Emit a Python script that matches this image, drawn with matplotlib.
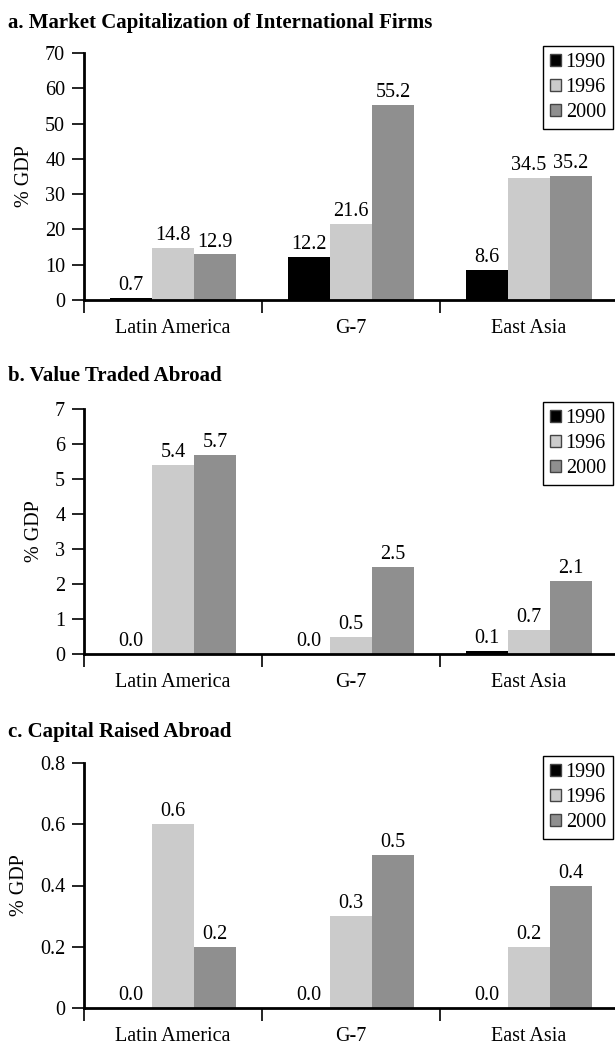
import matplotlib
matplotlib.use('Agg')
import matplotlib.pyplot as plt
from matplotlib.patches import Patch

plt.rcParams['font.family'] = ['Liberation Serif', 'DejaVu Serif']

# data
regions = ['Latin America', 'G-7', 'East Asia']
years = ['1990', '1996', '2000']
colors = ['#000000', '#cbcbcb', '#8f8f8f']

titles = ['a. Market Capitalization of International Firms',
          'b. Value Traded Abroad',
          'c. Capital Raised Abroad']

mcap_1990 = [0.7, 12.2, 8.6]
mcap_1996 = [14.8, 21.6, 34.5]
mcap_2000 = [12.9, 55.2, 35.2]

traded_1990 = [0.0, 0.0, 0.1]
traded_1996 = [5.4, 0.5, 0.7]
traded_2000 = [5.7, 2.5, 2.1]

raised_1990 = [0.0, 0.0, 0.0]
raised_1996 = [0.6, 0.3, 0.2]
raised_2000 = [0.2, 0.5, 0.4]

yticks_a = [0, 10, 20, 30, 40, 50, 60, 70]
yticks_b = [0, 1, 2, 3, 4, 5, 6, 7]
yticks_c = [0, 0.2, 0.4, 0.6, 0.8]
ytick_labels_c = ['0', '0.2', '0.4', '0.6', '0.8']

panels = [
    (titles[0], [mcap_1990, mcap_1996, mcap_2000], yticks_a, [str(t) for t in yticks_a]),
    (titles[1], [traded_1990, traded_1996, traded_2000], yticks_b, [str(t) for t in yticks_b]),
    (titles[2], [raised_1990, raised_1996, raised_2000], yticks_c, ytick_labels_c),
]

W, H = 615, 1049
fig = plt.figure(figsize=(W / 100, H / 100), dpi=100)

# pixel layout: (axis top y, axis bottom y, title y, legend top y)
layout = [(53, 300, 23, 46), (409, 654, 376, 402), (763, 1008, 732, 756)]
left_px, right_px = 84, 618

fs = 14.5
bw = 0.236
for (title, series, yt, ytl), (top, bot, ty, ly) in zip(panels, layout):
    ax = fig.add_axes([left_px / W, 1 - bot / H, (right_px - left_px) / W, (bot - top) / H])
    x = range(len(regions))
    for i, (vals, c, yr) in enumerate(zip(series, colors, years)):
        pos = [xi + (i - 1) * bw for xi in x]
        bars = ax.bar(pos, vals, width=bw, color=c, label=yr, linewidth=0)
        ax.bar_label(bars, labels=[f'{v:.1f}' for v in vals], padding=2, fontsize=fs)
    ax.set_xlim(-0.5, 2.5)
    ax.set_ylim(0, yt[-1])
    ax.set_yticks(yt)
    ax.set_yticklabels(ytl, fontsize=fs)
    ax.set_xticks(list(x))
    ax.set_xticklabels(regions, fontsize=fs)
    ax.set_xticks([-0.5, 0.5, 1.5], minor=True)
    ax.tick_params(axis='x', which='major', length=0, pad=14)
    ax.tick_params(axis='x', which='minor', length=9, width=1.2, direction='out')
    ax.tick_params(axis='y', length=8.5, width=1.2, direction='out', pad=5)
    ax.spines['top'].set_visible(False)
    ax.spines['right'].set_visible(False)
    ax.spines['left'].set_linewidth(2.0)
    ax.spines['bottom'].set_linewidth(2.0)
    ax.set_ylabel('% GDP', fontsize=fs, labelpad=8)
    fig.text(8 / W, 1 - ty / H, title, fontsize=15, fontweight='bold', va='center', ha='left')
    handles = [Patch(facecolor=c, edgecolor='#444444', linewidth=1.0) for c in colors]
    ax.legend(handles, years, loc='upper right', bbox_to_anchor=(613 / W, 1 - ly / H),
              bbox_transform=fig.transFigure, fontsize=fs, frameon=True, fancybox=False,
              edgecolor='black', framealpha=1, handlelength=0.55, handleheight=0.55,
              handletextpad=0.25, borderpad=0.35, labelspacing=0.3, borderaxespad=0)

fig.savefig('out.png', dpi=100)
